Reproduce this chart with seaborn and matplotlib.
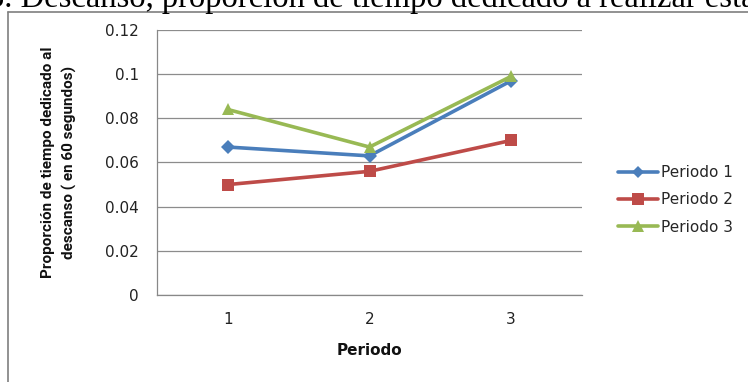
import matplotlib
matplotlib.use("Agg")
import matplotlib.pyplot as plt
from matplotlib.lines import Line2D
import seaborn as sns
import pandas as pd

periods = [1, 2, 3]
periodo_1 = [0.067, 0.063, 0.097]
periodo_2 = [0.050, 0.056, 0.070]
periodo_3 = [0.084, 0.067, 0.099]
series_names = ["Periodo 1", "Periodo 2", "Periodo 3"]
y_ticks = [0, 0.02, 0.04, 0.06, 0.08, 0.1, 0.12]
y_tick_labels = ["0", "0.02", "0.04", "0.06", "0.08", "0.1", "0.12"]

rows = []
for name, vals in zip(series_names, [periodo_1, periodo_2, periodo_3]):
    for p, v in zip(periods, vals):
        rows.append({"Periodo": p, "valor": v, "serie": name})
df = pd.DataFrame(rows)

sns.set_style("white")
plt.rcParams["font.family"] = ["DejaVu Sans"]

colors = {"Periodo 1": "#4A7EBB", "Periodo 2": "#BE4B48", "Periodo 3": "#98B954"}
markers = {"Periodo 1": "D", "Periodo 2": "s", "Periodo 3": "^"}
msizes = {"Periodo 1": 7, "Periodo 2": 9, "Periodo 3": 9}

fig = plt.figure(figsize=(7.48, 3.82), dpi=100)
ax = fig.add_axes([157 / 748, 1 - 295 / 382, (582 - 157) / 748, (295 - 30) / 382])

sns.lineplot(data=df, x="Periodo", y="valor", hue="serie", style="serie",
             hue_order=series_names, style_order=series_names,
             palette=colors, markers=markers, dashes=False,
             linewidth=2.6, markeredgewidth=0, ax=ax, legend=False)
for line, name in zip(ax.get_lines(), series_names):
    line.set_markersize(msizes[name])

ax.set_xlim(0.5, 3.5)
ax.set_ylim(0, 0.12)
ax.set_yticks(y_ticks)
ax.set_yticklabels(y_tick_labels)
ax.set_xticks(periods)
ax.set_xticklabels([str(p) for p in periods])
ax.set_xticks([0.5, 1.5, 2.5, 3.5], minor=True)
ax.tick_params(axis="x", which="major", length=0, pad=12, labelsize=11, colors="#222222")
ax.tick_params(axis="x", which="minor", length=5, width=0.8, color="#888888", direction="out")
ax.tick_params(axis="y", which="major", length=5, width=0.8, direction="out",
               pad=8, labelsize=11, colors="#222222")
for t in ax.yaxis.get_ticklines():
    t.set_color("#888888")
ax.yaxis.grid(True, color="#8c8c8c", linewidth=0.9)
ax.xaxis.grid(False)
for side in ["top", "right"]:
    ax.spines[side].set_visible(False)
for side in ["left", "bottom"]:
    ax.spines[side].set_color("#888888")
    ax.spines[side].set_linewidth(0.9)

ax.set_xlabel("Periodo", fontsize=11, fontweight="bold", labelpad=12, color="#111111")
ax.set_ylabel("Proporción de tiempo dedicado al\ndescanso ( en 60 segundos)",
              fontsize=11, fontweight="bold", color="#111111", labelpad=20,
              family="Roboto", linespacing=1.6)

handles = [Line2D([0], [0], color=colors[n], marker=markers[n], linewidth=2.6,
                  markersize=msizes[n] - 1, markeredgewidth=0) for n in series_names]
fig.legend(handles, series_names, loc="center left",
           bbox_to_anchor=(612 / 748, 1 - 200 / 382), frameon=False,
           fontsize=11, handlelength=2.6, handletextpad=0.2, labelspacing=0.8,
           borderaxespad=0)

# outer chart frame
fig.add_artist(Line2D([8 / 748, 8 / 748], [0, 1 - 12 / 382], color="#7f7f7f",
                      linewidth=1.2, transform=fig.transFigure))
fig.add_artist(Line2D([8 / 748, 1], [1 - 12 / 382, 1 - 12 / 382], color="#7f7f7f",
                      linewidth=1.2, transform=fig.transFigure))

fig.text(-12 / 748, 1 - 7 / 382, "3. Descanso, proporción de tiempo dedicado a realizar esta",
         fontsize=23.5, family="Liberation Serif", va="baseline", ha="left", color="black")

fig.savefig("out.png", dpi=100)
